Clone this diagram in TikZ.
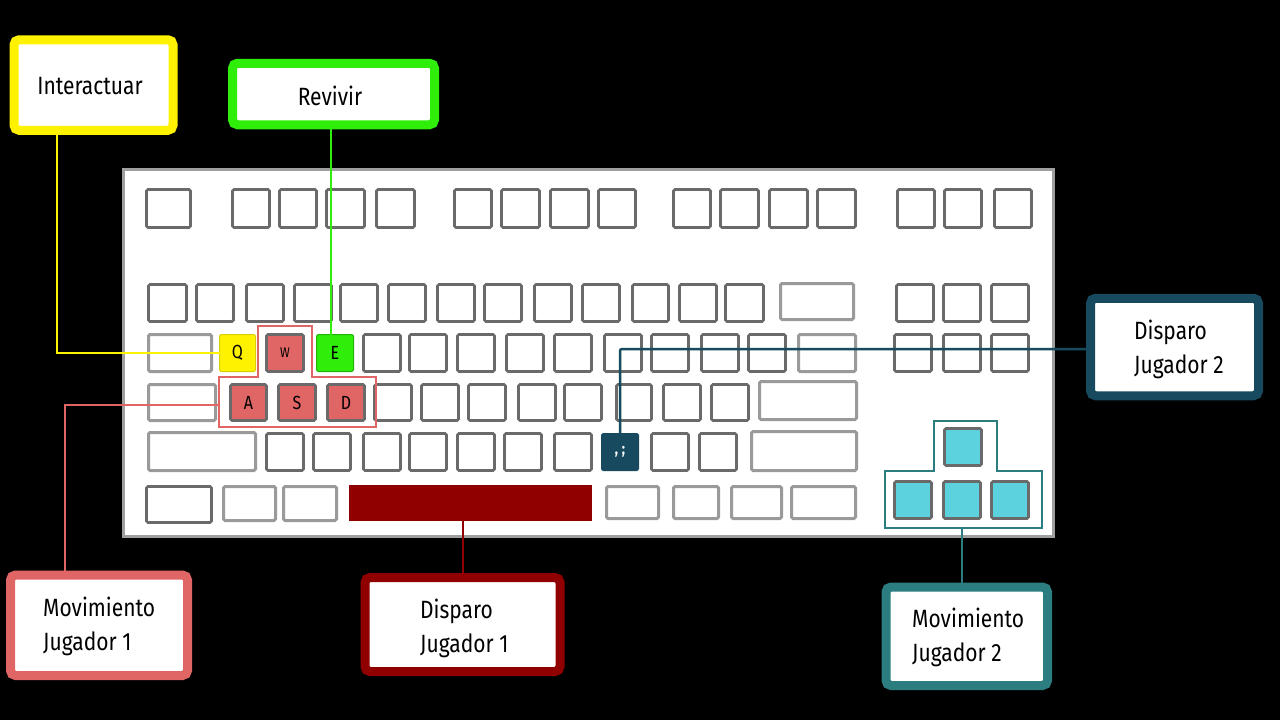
\documentclass[tikz,border=0pt]{standalone}
\usepackage{fontspec}
\newfontfamily\agency[FakeStretch=0.84]{Fira Sans}
\definecolor{cyel}{HTML}{FFF200}
\definecolor{cgrn}{HTML}{2EEE0A}
\definecolor{csal}{HTML}{E06666}
\definecolor{cdred}{HTML}{900000}
\definecolor{cdblue}{HTML}{174A5E}
\definecolor{cteal}{HTML}{2C7D80}
\definecolor{ccyan}{HTML}{5DD2DF}
\definecolor{kgray}{HTML}{6A6A6A}
\definecolor{kwide}{HTML}{9A9A9A}
\tikzset{
  kk/.style={draw=kgray, line width=2.6pt, fill=white, rounded corners=1.5pt, inner sep=0pt, outer sep=0pt, font=\agency\fontsize{19}{21}\selectfont, text=black},
  kwd/.style={draw=kwide, line width=3pt},
  lbox/.style={line width=9pt, fill=white, rounded corners=5pt, inner sep=0pt},
  btext/.style={font=\agency\fontsize{25}{34}\selectfont, align=left, inner sep=0pt, text=black},
  conn/.style={line width=2pt}
}
% optional style, x1, y1, x2, y2, name, text
\newcommand\kkey[7][]{\node[kk,#1,minimum width={#4-#2-3},minimum height={#5-#3-3}] (#6) at ({(#2+#4)/2},{(#3+#5)/2}) {#7};}
\begin{document}
\begin{tikzpicture}[x=1pt,y=-1pt]
\fill[black] (0,0) rectangle (1280,720);
\useasboundingbox (0,0) rectangle (1280,720);
% keyboard body
\draw[fill=white, draw=gray!75, line width=3pt] (123,169) rectangle (1053,536);
% row 0
\kkey{145}{188}{192}{229}{f0}{}
\kkey{231}{188}{271}{229}{f1}{}
\kkey{278}{188}{318}{229}{f2}{}
\kkey{325}{188}{366}{229}{f3}{}
\kkey{375}{188}{416}{229}{f4}{}
\kkey{453}{188}{493}{229}{f5}{}
\kkey{500}{188}{541}{229}{f6}{}
\kkey{549}{188}{590}{229}{f7}{}
\kkey{597}{188}{637}{229}{f8}{}
\kkey{672}{188}{712}{229}{f9}{}
\kkey{719}{188}{760}{229}{f10}{}
\kkey{768}{188}{809}{229}{f11}{}
\kkey{816}{188}{857}{229}{f12}{}
\kkey{896}{188}{936}{229}{f13}{}
\kkey{943}{188}{983}{229}{f14}{}
\kkey{993}{188}{1033}{229}{f15}{}
% row 1
\kkey{147}{283}{188}{323}{n0}{}
\kkey{195}{283}{235}{323}{n1}{}
\kkey{245}{283}{285}{323}{n2}{}
\kkey{293}{283}{333}{323}{n3}{}
\kkey{339}{283}{379}{323}{n4}{}
\kkey{387}{283}{427}{323}{n5}{}
\kkey{436}{283}{476}{323}{n6}{}
\kkey{483}{283}{523}{323}{n7}{}
\kkey{533}{283}{573}{323}{n8}{}
\kkey{581}{283}{621}{323}{n9}{}
\kkey{631}{283}{670}{323}{n10}{}
\kkey{678}{283}{718}{323}{n11}{}
\kkey{724}{283}{765}{323}{n12}{}
\kkey[kwd]{779}{282}{855}{321}{bksp}{}
\kkey{895}{283}{935}{323}{ins}{}
\kkey{942}{283}{982}{323}{home}{}
\kkey{990}{283}{1030}{323}{pgup}{}
% row 2
\kkey[kwd]{147}{333}{213}{373}{tab}{}
\kkey[fill=cyel,draw=cyel!85!black,line width=1pt]{218}{333}{257}{373}{Q}{Q}
\kkey[fill=csal]{265}{333}{305}{373}{W}{\fontsize{14}{16}\selectfont W}
\kkey[fill=cgrn,draw=cgrn!75!black,line width=1pt]{315}{333}{355}{373}{E}{E}
\kkey{362}{333}{402}{373}{R}{}
\kkey{408}{333}{448}{373}{T}{}
\kkey{456}{333}{496}{373}{Y}{}
\kkey{505}{333}{545}{373}{U}{}
\kkey{553}{333}{593}{373}{I}{}
\kkey{603}{333}{643}{373}{O}{}
\kkey{650}{333}{690}{373}{P}{}
\kkey{700}{333}{740}{373}{lbr}{}
\kkey{747}{333}{787}{373}{rbr}{}
\kkey[kwd]{797}{333}{857}{373}{bsl}{}
\kkey{893}{333}{933}{373}{del}{}
\kkey{942}{333}{982}{373}{end}{}
\kkey{990}{333}{1030}{373}{pgdn}{}
% row 3
\kkey[kwd]{147}{383}{217}{422}{caps}{}
\kkey[fill=csal]{229}{383}{268}{422}{A}{A}
\kkey[fill=csal]{277}{383}{317}{422}{S}{S}
\kkey[fill=csal]{326}{383}{366}{422}{D}{D}
\kkey{373}{383}{413}{422}{F}{}
\kkey{420}{383}{460}{422}{G}{}
\kkey{467}{383}{507}{422}{H}{}
\kkey{517}{383}{557}{422}{J}{}
\kkey{563}{383}{603}{422}{Kk}{}
\kkey{615}{383}{653}{422}{L}{}
\kkey{662}{383}{702}{422}{semi}{}
\kkey{710}{383}{750}{422}{quote}{}
\kkey[kwd]{758}{380}{858}{421}{enter}{}
% row 4
\kkey[kwd]{147}{431}{257}{472}{lshift}{}
\kkey{265}{432}{305}{472}{Z}{}
\kkey{312}{432}{352}{472}{X}{}
\kkey{362}{432}{402}{472}{C}{}
\kkey{408}{432}{448}{472}{V}{}
\kkey{456}{432}{496}{472}{B}{}
\kkey{503}{432}{543}{472}{N}{}
\kkey{553}{432}{593}{472}{M}{}
\kkey[fill=cdblue,draw=cdblue,line width=1pt,text=white,font=\agency\bfseries\fontsize{16}{18}\selectfont]{600}{432}{640}{472}{comma}{,\kern4pt;}
\kkey{650}{432}{690}{472}{dot}{}
\kkey{698}{432}{738}{472}{slash}{}
\kkey[kwd]{750}{430}{858}{472}{rshift}{}
% row 5
\kkey{145}{485}{213}{524}{ctrl}{}
\kkey[kwd]{222}{485}{277}{522}{win}{}
\kkey[kwd]{282}{485}{338}{522}{alt}{}
\kkey[fill=cdred,draw=cdred,line width=0.5pt,rounded corners=0pt]{348}{484}{593}{522}{space}{}
\kkey[kwd]{605}{485}{660}{520}{altgr}{}
\kkey[kwd]{672}{485}{720}{520}{win2}{}
\kkey[kwd]{730}{485}{783}{520}{menu}{}
\kkey[kwd]{790}{485}{857}{520}{rctrl}{}
% arrows
\kkey[fill=ccyan]{943}{427}{983}{467}{up}{}
\kkey[fill=ccyan]{893}{480}{933}{520}{left}{}
\kkey[fill=ccyan]{942}{480}{982}{520}{down}{}
\kkey[fill=ccyan]{990}{480}{1030}{520}{right}{}
% frames
\draw[cteal, line width=2.5pt] (885,471) -- (934,471) -- (934,421) -- (997,421) -- (997,471) -- (1042,471) -- (1042,528) -- (885,528) -- cycle;
\draw[csal, line width=2pt] (258,326) -- (312,326) -- (312,377) -- (376,377) -- (376,427) -- (219,427) -- (219,377) -- (258,377) -- cycle;
\coordinate (wasdL) at (219,405);
\coordinate (arrF) at (962,528);
% label boxes
\node[lbox, draw=cyel, minimum width=159, minimum height=90.5] (inter) at (93.5,85) {};
\node[btext] (tinter) at (90,86) {Interactuar};
\node[lbox, draw=cgrn, minimum width=202, minimum height=61.5] (rev) at (333.5,94) {};
\node[btext] (trev) at (330,96) {Revivir};
\node[lbox, draw=cdblue, minimum width=168, minimum height=97.5] (dj2) at (1174.5,347) {};
\node[btext, anchor=west] (tdj2) at (1134,349.5) {Disparo\\Jugador 2};
\node[lbox, draw=csal, minimum width=177, minimum height=100.5] (mj1) at (99,625.25) {};
\node[btext, anchor=west] (tmj1) at (43,626) {Movimiento\\Jugador 1};
\node[lbox, draw=cdred, minimum width=195, minimum height=94] (dj1) at (462.5,624.5) {};
\node[btext, anchor=west] (tdj1) at (420,628.5) {Disparo\\Jugador 1};
\node[lbox, draw=cteal, minimum width=161.5, minimum height=98.5] (mj2) at (966.75,636.25) {};
\node[btext, anchor=west] (tmj2) at (912,637.5) {Movimiento\\Jugador 2};
% connectors
\draw[conn, cyel] ([xshift=-36.5]inter.south) |- (Q.west);
\draw[conn, cgrn] ([xshift=-2.5]rev.south) -- ([xshift=-4]E.north);
\draw[conn, csal] ([xshift=-34]mj1.north) |- (wasdL);
\draw[conn, cdred] (dj1.north) -- (dj1.north |- space.south);
\draw[conn, cdblue, line width=2.5pt, rounded corners=2pt] ([yshift=-2]dj2.west) -| (comma.north);
\draw[conn, cteal] (arrF) -- (arrF |- mj2.north);
\end{tikzpicture}
\end{document}
